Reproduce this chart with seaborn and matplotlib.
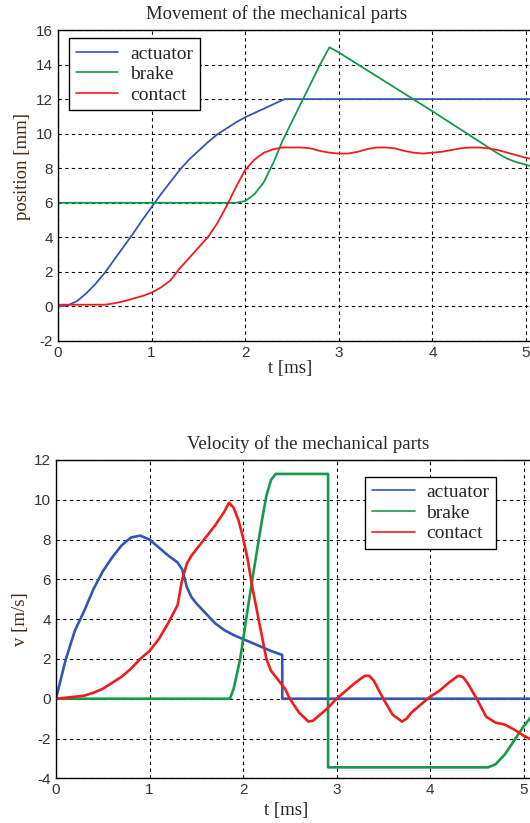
import numpy as np
import pandas as pd
import matplotlib
matplotlib.use('Agg')
import matplotlib.pyplot as plt
import seaborn as sns

# position [mm] vs t [ms]
t_act_pos = [0, 0.1, 0.2, 0.3, 0.4, 0.5, 0.6, 0.7, 0.8, 0.9, 1.0, 1.1, 1.2, 1.3, 1.4, 1.5,
             1.6, 1.7, 1.8, 1.9, 2.0, 2.1, 2.2, 2.3, 2.42, 5.5]
act_pos = [0, 0.05, 0.3, 0.75, 1.3, 1.95, 2.7, 3.45, 4.2, 5.0, 5.75, 6.5, 7.2, 7.9, 8.5, 9.0,
           9.5, 9.95, 10.3, 10.65, 10.95, 11.2, 11.45, 11.7, 12.0, 12.0]

t_brk_pos = [0, 1.9, 2.0, 2.1, 2.2, 2.3, 2.4, 2.5, 2.6, 2.7, 2.8, 2.9, 3.0, 3.5, 4.0, 4.6,
             4.7, 4.8, 4.9, 5.0, 5.1]
brk_pos = [6, 6, 6.1, 6.5, 7.2, 8.3, 9.6, 10.7, 11.8, 12.9, 14.0, 15.0, 14.7, 13.0, 11.3, 9.2,
           8.85, 8.55, 8.35, 8.2, 8.05]

t_con_pos = [0, 0.5, 0.6, 0.7, 0.8, 0.9, 1.0, 1.1, 1.2, 1.3, 1.4, 1.5, 1.6, 1.7, 1.8, 1.9,
             2.0, 2.1, 2.2, 2.3, 2.4, 2.5, 2.6, 2.7, 2.8, 2.9, 3.0, 3.1, 3.2, 3.3, 3.4, 3.5,
             3.6, 3.7, 3.8, 3.9, 4.0, 4.1, 4.2, 4.3, 4.4, 4.5, 4.6, 4.7, 4.8, 4.9, 5.0, 5.1]
con_pos = [0.1, 0.1, 0.18, 0.3, 0.45, 0.6, 0.8, 1.1, 1.5, 2.2, 2.8, 3.4, 4.0, 4.8, 5.8, 6.9,
           7.9, 8.5, 8.9, 9.1, 9.2, 9.2, 9.2, 9.15, 9.0, 8.9, 8.85, 8.85, 8.95, 9.1, 9.2, 9.2,
           9.15, 9.0, 8.9, 8.85, 8.9, 8.95, 9.05, 9.15, 9.2, 9.2, 9.15, 9.05, 8.9, 8.75, 8.6, 8.5]

# velocity [m/s] vs t [ms]
t_act_vel = [0, 0.1, 0.2, 0.3, 0.4, 0.5, 0.6, 0.7, 0.8, 0.9, 1.0, 1.1, 1.2, 1.3, 1.35, 1.4,
             1.45, 1.5, 1.6, 1.7, 1.8, 1.9, 2.0, 2.1, 2.2, 2.3, 2.42, 2.42, 5.5]
act_vel = [0, 1.9, 3.4, 4.4, 5.5, 6.4, 7.1, 7.7, 8.1, 8.2, 8.0, 7.6, 7.2, 6.85, 6.5, 5.6,
           5.1, 4.8, 4.3, 3.8, 3.45, 3.2, 3.0, 2.8, 2.6, 2.4, 2.2, 0, 0]

t_brk_vel = [0, 1.86, 1.9, 1.97, 2.05, 2.1, 2.2, 2.25, 2.3, 2.35, 2.91, 2.91, 4.62, 4.7, 4.8,
             4.9, 5.0, 5.1]
brk_vel = [0, 0, 0.5, 2.0, 4.5, 6.0, 8.9, 10.2, 11.0, 11.3, 11.3, -3.45, -3.45, -3.3, -2.8,
           -2.1, -1.4, -0.8]

t_con_vel = [0, 0.2, 0.3, 0.4, 0.5, 0.6, 0.7, 0.8, 0.9, 1.0, 1.1, 1.2, 1.3, 1.35, 1.4, 1.45,
             1.5, 1.6, 1.7, 1.8, 1.85, 1.9, 1.95, 2.0, 2.05, 2.1, 2.15, 2.2, 2.25, 2.3, 2.4,
             2.45, 2.5, 2.6, 2.7, 2.75, 2.8, 2.9, 3.0, 3.1, 3.2, 3.3, 3.35, 3.4, 3.5, 3.6,
             3.7, 3.75, 3.8, 3.9, 4.0, 4.1, 4.2, 4.3, 4.35, 4.4, 4.5, 4.6, 4.7, 4.8, 4.9,
             5.0, 5.1]
con_vel = [0, 0.1, 0.15, 0.3, 0.5, 0.8, 1.1, 1.5, 2.0, 2.4, 3.0, 3.8, 4.7, 6.0, 6.8, 7.2,
           7.5, 8.1, 8.7, 9.4, 9.85, 9.6, 9.0, 8.1, 7.0, 5.6, 4.4, 3.2, 2.0, 1.4, 0.8,
           0.5, 0.0, -0.7, -1.15, -1.1, -0.9, -0.5, 0.0, 0.4, 0.8, 1.15, 1.15, 0.9, 0.0, -0.8,
           -1.15, -1.0, -0.7, -0.3, 0.1, 0.4, 0.8, 1.15, 1.1, 0.8, 0.0, -0.9, -1.2, -1.3, -1.55,
           -1.85, -2.1]

parts = ['actuator', 'brake', 'contact']
colors = ['#3555b5', '#16994a', '#f01c1c']

def make_frame(series):
    frames = []
    for name, (t, v) in zip(parts, series):
        frames.append(pd.DataFrame({'t': t, 'v': v, 'part': name}))
    return pd.concat(frames, ignore_index=True)

pos_df = make_frame([(t_act_pos, act_pos), (t_brk_pos, brk_pos), (t_con_pos, con_pos)])
vel_df = make_frame([(t_act_vel, act_vel), (t_brk_vel, brk_vel), (t_con_vel, con_vel)])

sns.set_style('white')
plt.rcParams['font.family'] = ['Liberation Serif', 'DejaVu Serif']
plt.rcParams['xtick.direction'] = 'in'
plt.rcParams['ytick.direction'] = 'in'
plt.rcParams['axes.unicode_minus'] = False

fig = plt.figure(figsize=(5.3, 8.23), dpi=100)
ax1 = fig.add_axes([58 / 530, (823 - 341) / 823, 514.8 / 530, 311 / 823])
ax2 = fig.add_axes([56 / 530, (823 - 778.3) / 823, 514.25 / 530, 318.3 / 823])

def style_axes(ax, title, title_x, xlabel_xy, ylabel, ylabel_y, ylim, yticks, lw):
    for line in ax.get_lines():
        line.set_linewidth(lw)
    ax.set_xlim(0, 5.5)
    ax.set_ylim(*ylim)
    ax.set_xticks([0, 1, 2, 3, 4, 5])
    ax.set_yticks(yticks)
    ax.grid(True, color='black', linestyle=(0, (3, 3)), linewidth=0.8)
    for sp in ax.spines.values():
        sp.set_color('black')
        sp.set_linewidth(1.0)
    ax.tick_params(length=3, width=0.8, color='black', labelcolor='#333333')
    for lab in ax.get_xticklabels() + ax.get_yticklabels():
        lab.set_family(['Liberation Sans', 'DejaVu Sans'])
        lab.set_fontsize(11)
    ax.set_title(title, fontsize=13.5, pad=8, x=title_x)
    ax.set_xlabel('t [ms]', fontsize=13.5)
    ax.xaxis.set_label_coords(*xlabel_xy)
    ax.set_ylabel(ylabel, fontsize=13.5, color='#4a2a10', labelpad=4)
    ax.yaxis.label.set_y(ylabel_y)

def add_legend(ax, anchor):
    leg = ax.legend(loc='upper left', bbox_to_anchor=anchor, borderaxespad=0,
                    fancybox=False, edgecolor='black', framealpha=1, fontsize=14,
                    labelspacing=0.15, handlelength=2.2, handletextpad=0.6, borderpad=0.35)
    leg.get_frame().set_linewidth(1.0)
    for line in leg.get_lines():
        line.set_linewidth(1.2)

sns.lineplot(data=pos_df, x='t', y='v', hue='part', palette=colors, estimator=None,
             sort=False, ax=ax1)
style_axes(ax1, 'Movement of the mechanical parts', 0.4244, (0.4507, -0.061),
           'position [mm]', 0.56, (-2, 16), range(-2, 17, 2), 1.3)
add_legend(ax1, (0.021, 0.974))

sns.lineplot(data=vel_df, x='t', y='v', hue='part', palette=colors, estimator=None,
             sort=False, ax=ax2)
style_axes(ax2, 'Velocity of the mechanical parts', 0.49, (0.447, -0.075),
           'v [m/s]', 0.5, (-4, 12), range(-4, 13, 2), 1.9)
add_legend(ax2, (0.601, 0.947))

fig.savefig('out.png', dpi=100)
